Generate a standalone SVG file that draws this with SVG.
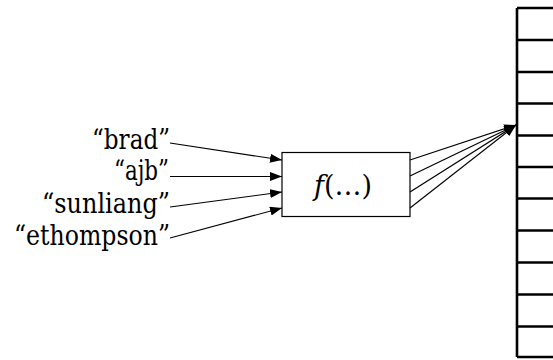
<svg xmlns="http://www.w3.org/2000/svg" width="553" height="360" viewBox="0 0 553 360">
<style>
.lbl{font-family:'DejaVu Serif',serif;font-size:27px;fill:#000;text-anchor:end}
.fn{font-family:'DejaVu Serif',serif;font-size:28px;fill:#000;text-anchor:middle}
.ln{stroke:#000;stroke-width:1.2;fill:none;marker-end:url(#ah)}
.row{stroke:#000;stroke-width:2.6}
</style>
<defs>
<marker id="ah" markerUnits="userSpaceOnUse" markerWidth="13" markerHeight="10" refX="12" refY="4.5" orient="auto">
<path d="M0,0 L12,4.5 L0,9 Z" fill="#000"/>
</marker>
</defs>
<g id="keys">
<text class="lbl" x="170" y="149" textLength="78" lengthAdjust="spacingAndGlyphs">“brad”</text>
<text class="lbl" x="169" y="180" textLength="55" lengthAdjust="spacingAndGlyphs">“ajb”</text>
<text class="lbl" x="170" y="213" textLength="128" lengthAdjust="spacingAndGlyphs">“sunliang”</text>
<text class="lbl" x="170" y="245" textLength="156" lengthAdjust="spacingAndGlyphs">“ethompson”</text>
</g>
<g id="hash">
<rect x="282" y="152.5" width="128" height="64" fill="#fff" stroke="#000" stroke-width="1.2"/>
<text class="fn" x="343" y="195" textLength="58" lengthAdjust="spacingAndGlyphs"><tspan font-style="italic">f</tspan>(…)</text>
</g>
<g id="table">
<path d="M517,8 V357 M517,8 H560 M517,357 H560" stroke="#000" stroke-width="2.6" fill="none"/>
<path class="row" d="M517,40 H560 M517,72 H560 M517,103.5 H560 M517,135.5 H560 M517,167 H560 M517,198.5 H560 M517,230.5 H560 M517,262.5 H560 M517,294.5 H560 M517,326.5 H560"/>
</g>
<g id="connectors">
<line class="ln" x1="170" y1="143" x2="282" y2="160"/>
<line class="ln" x1="170" y1="176.5" x2="282" y2="176.5"/>
<line class="ln" x1="170" y1="207" x2="282" y2="192"/>
<line class="ln" x1="170" y1="238" x2="282" y2="208"/>
<line class="ln" x1="410" y1="160" x2="516" y2="125"/>
<line class="ln" x1="410" y1="176" x2="516" y2="125"/>
<line class="ln" x1="410" y1="192" x2="516" y2="125"/>
<line class="ln" x1="410" y1="208" x2="516" y2="125"/>
</g>
</svg>
